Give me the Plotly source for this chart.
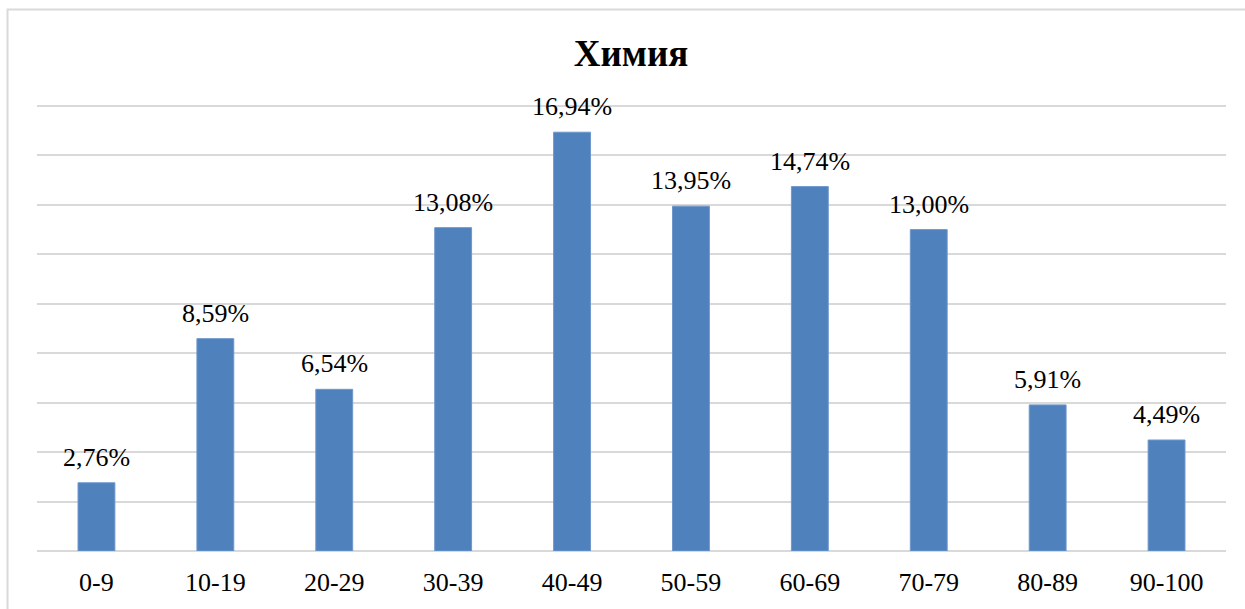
import plotly.graph_objects as go

categories = ["0-9", "10-19", "20-29", "30-39", "40-49", "50-59", "60-69", "70-79", "80-89", "90-100"]
values = [2.76, 8.59, 6.54, 13.08, 16.94, 13.95, 14.74, 13.00, 5.91, 4.49]
title_text = "Химия"

W, H = 1245, 609
ml, mr, mt, mb = 37, 19, 96, 58
FONT = "'Times New Roman', 'Liberation Serif', 'DejaVu Serif', serif"

# y range chosen so that 18 sits at pixel 106 and 0 at pixel 551
y_top = 18 * (H - mb - mt) / (H - mb - 106)

fig = go.Figure()
fig.add_trace(go.Bar(
    x=categories, y=values,
    marker=dict(color="#4F81BD", line=dict(color="#6F97CB", width=1)),
    width=0.31,
    hoverinfo="skip",
))

for c, v in zip(categories, values):
    fig.add_annotation(
        x=c, y=v, xref="x", yref="y",
        text=("%.2f%%" % v).replace(".", ","),
        showarrow=False, yanchor="bottom", yshift=9,
        font=dict(family=FONT, size=26, color="#000000"),
    )

pw = W - ml - mr
ph = H - mt - mb
def px_to_paper_x(p):
    return (p - ml) / pw
def px_to_paper_y(p):
    return (H - mb - p) / ph

fig.add_shape(
    type="rect", xref="paper", yref="paper",
    x0=px_to_paper_x(7.5), x1=px_to_paper_x(1260),
    y0=px_to_paper_y(620), y1=px_to_paper_y(9.5),
    line=dict(color="#D9D9D9", width=2), fillcolor="rgba(0,0,0,0)",
    layer="below",
)

fig.update_layout(
    width=W, height=H,
    margin=dict(l=ml, r=mr, t=mt, b=mb),
    paper_bgcolor="white", plot_bgcolor="white",
    showlegend=False,
    font=dict(family=FONT),
    title=dict(
        text="<b>%s</b>" % title_text,
        x=px_to_paper_x(631), xref="paper", xanchor="center",
        y=1 - 53 / H, yref="container", yanchor="middle",
        font=dict(family=FONT, size=37, color="#000000"),
    ),
    xaxis=dict(
        showgrid=False, showline=False, zeroline=False,
        ticks="", ticklabelstandoff=13,
        tickfont=dict(family=FONT, size=26, color="#000000"),
    ),
    yaxis=dict(
        range=[0, y_top], dtick=2, tick0=0,
        showgrid=True, gridcolor="#D9D9D9", gridwidth=2,
        zeroline=True, zerolinecolor="#D9D9D9", zerolinewidth=2,
        showticklabels=False, ticks="", showline=False,
    ),
)

fig.write_html("out.html")
